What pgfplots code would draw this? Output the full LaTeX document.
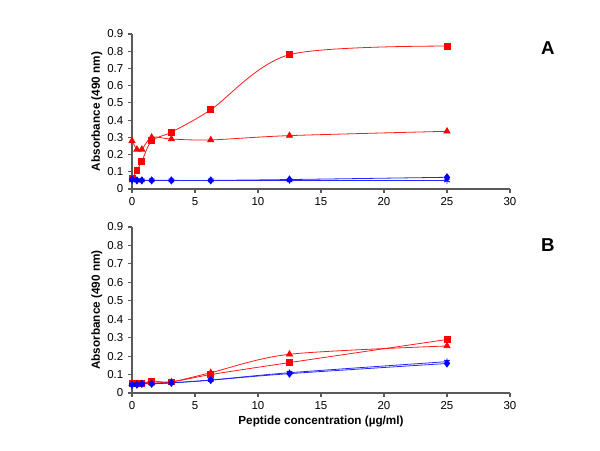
\documentclass[border=0pt]{standalone}
\usepackage{fontspec}
\setmainfont{Liberation Sans}
\usepackage{pgfplots}
\pgfplotsset{compat=1.18}
\definecolor{axgray}{RGB}{90,90,90}
\pgfplotsset{
  myax/.style={
    scale only axis,
    width=283.5pt,
    xmin=0, xmax=30, ymin=0, ymax=0.9,
    axis x line*=bottom, axis y line*=left,
    axis line style={axgray, line width=0.9pt},
    xtick={0,5,...,30}, ytick={0,0.1,...,0.9},
    tick align=outside, tick style={axgray, line width=0.9pt},
    major tick length=3pt,
    tick label style={font=\fontsize{8.6}{9.5}\selectfont},
    /pgf/number format/assume math mode=true,
    yticklabel style={/pgf/number format/fixed, /pgf/number format/precision=1},
    ylabel={\textbf{Absorbance (490 nm)}},
    ylabel style={font=\fontsize{8.8}{10}\selectfont, yshift=-3pt},
    clip=false,
  },
  rsq/.style={red!90!white, line width=0.6pt, mark=square*, mark size=2.2pt, mark options={fill=red, draw=red, solid}},
  rtr/.style={red!90!white, line width=0.6pt, mark=triangle*, mark size=2.6pt, mark options={fill=red, draw=red, solid}},
  bdi/.style={blue!85!white, line width=0.6pt, mark=diamond*, mark size=2.6pt, mark options={fill=blue, draw=blue, solid}},
  bx/.style={blue!85!white, line width=0.6pt, mark=asterisk, mark size=2.4pt, mark options={draw=blue, solid, line width=0.7pt}},
}
\begin{document}
\begin{tikzpicture}[x=1pt,y=1pt]
\path (0,0) rectangle (450,337.5);
% Top panel
\begin{axis}[myax, height=116.25pt, at={(99pt,195.75pt)}, anchor=origin]
\addplot[rsq, smooth, tension=0.5] coordinates {(0,0.06) (0.39,0.11) (0.78,0.16) (1.56,0.28) (3.125,0.33) (6.25,0.46) (12.5,0.78) (25,0.83)};
\addplot[rtr, smooth, tension=0.5] coordinates {(0,0.28) (0.39,0.23) (0.78,0.23) (1.56,0.30) (3.125,0.29) (6.25,0.285) (12.5,0.31) (25,0.335)};
\addplot[bx, smooth] coordinates {(0,0.05) (0.39,0.05) (0.78,0.05) (1.56,0.05) (3.125,0.05) (6.25,0.05) (12.5,0.05) (25,0.05)};
\addplot[bdi, smooth] coordinates {(0,0.055) (0.39,0.05) (0.78,0.05) (1.56,0.05) (3.125,0.05) (6.25,0.05) (12.5,0.055) (25,0.068)};
\node[font=\bfseries\fontsize{14}{16}\selectfont] at (axis cs:33,0.82) {A};
\end{axis}
% Bottom panel
\begin{axis}[myax, height=124.5pt, at={(99pt,42.75pt)}, anchor=origin,
  xlabel={\textbf{Peptide concentration (µg/ml)}},
  xlabel style={font=\fontsize{8.8}{10}\selectfont, yshift=2pt}]
\addplot[rsq, smooth, tension=0.5] coordinates {(0,0.05) (0.39,0.05) (0.78,0.05) (1.56,0.065) (3.125,0.06) (6.25,0.10) (12.5,0.165) (25,0.29)};
\addplot[rtr, smooth, tension=0.5] coordinates {(0,0.05) (0.39,0.05) (0.78,0.05) (1.56,0.06) (3.125,0.06) (6.25,0.11) (12.5,0.21) (25,0.255)};
\addplot[bx, smooth] coordinates {(0,0.045) (0.39,0.045) (0.78,0.05) (1.56,0.05) (3.125,0.055) (6.25,0.07) (12.5,0.11) (25,0.17)};
\addplot[bdi, smooth] coordinates {(0,0.045) (0.39,0.045) (0.78,0.05) (1.56,0.05) (3.125,0.055) (6.25,0.07) (12.5,0.105) (25,0.16)};
\node[font=\bfseries\fontsize{14}{16}\selectfont] at (axis cs:33,0.8) {B};
\end{axis}
\end{tikzpicture}
\end{document}
